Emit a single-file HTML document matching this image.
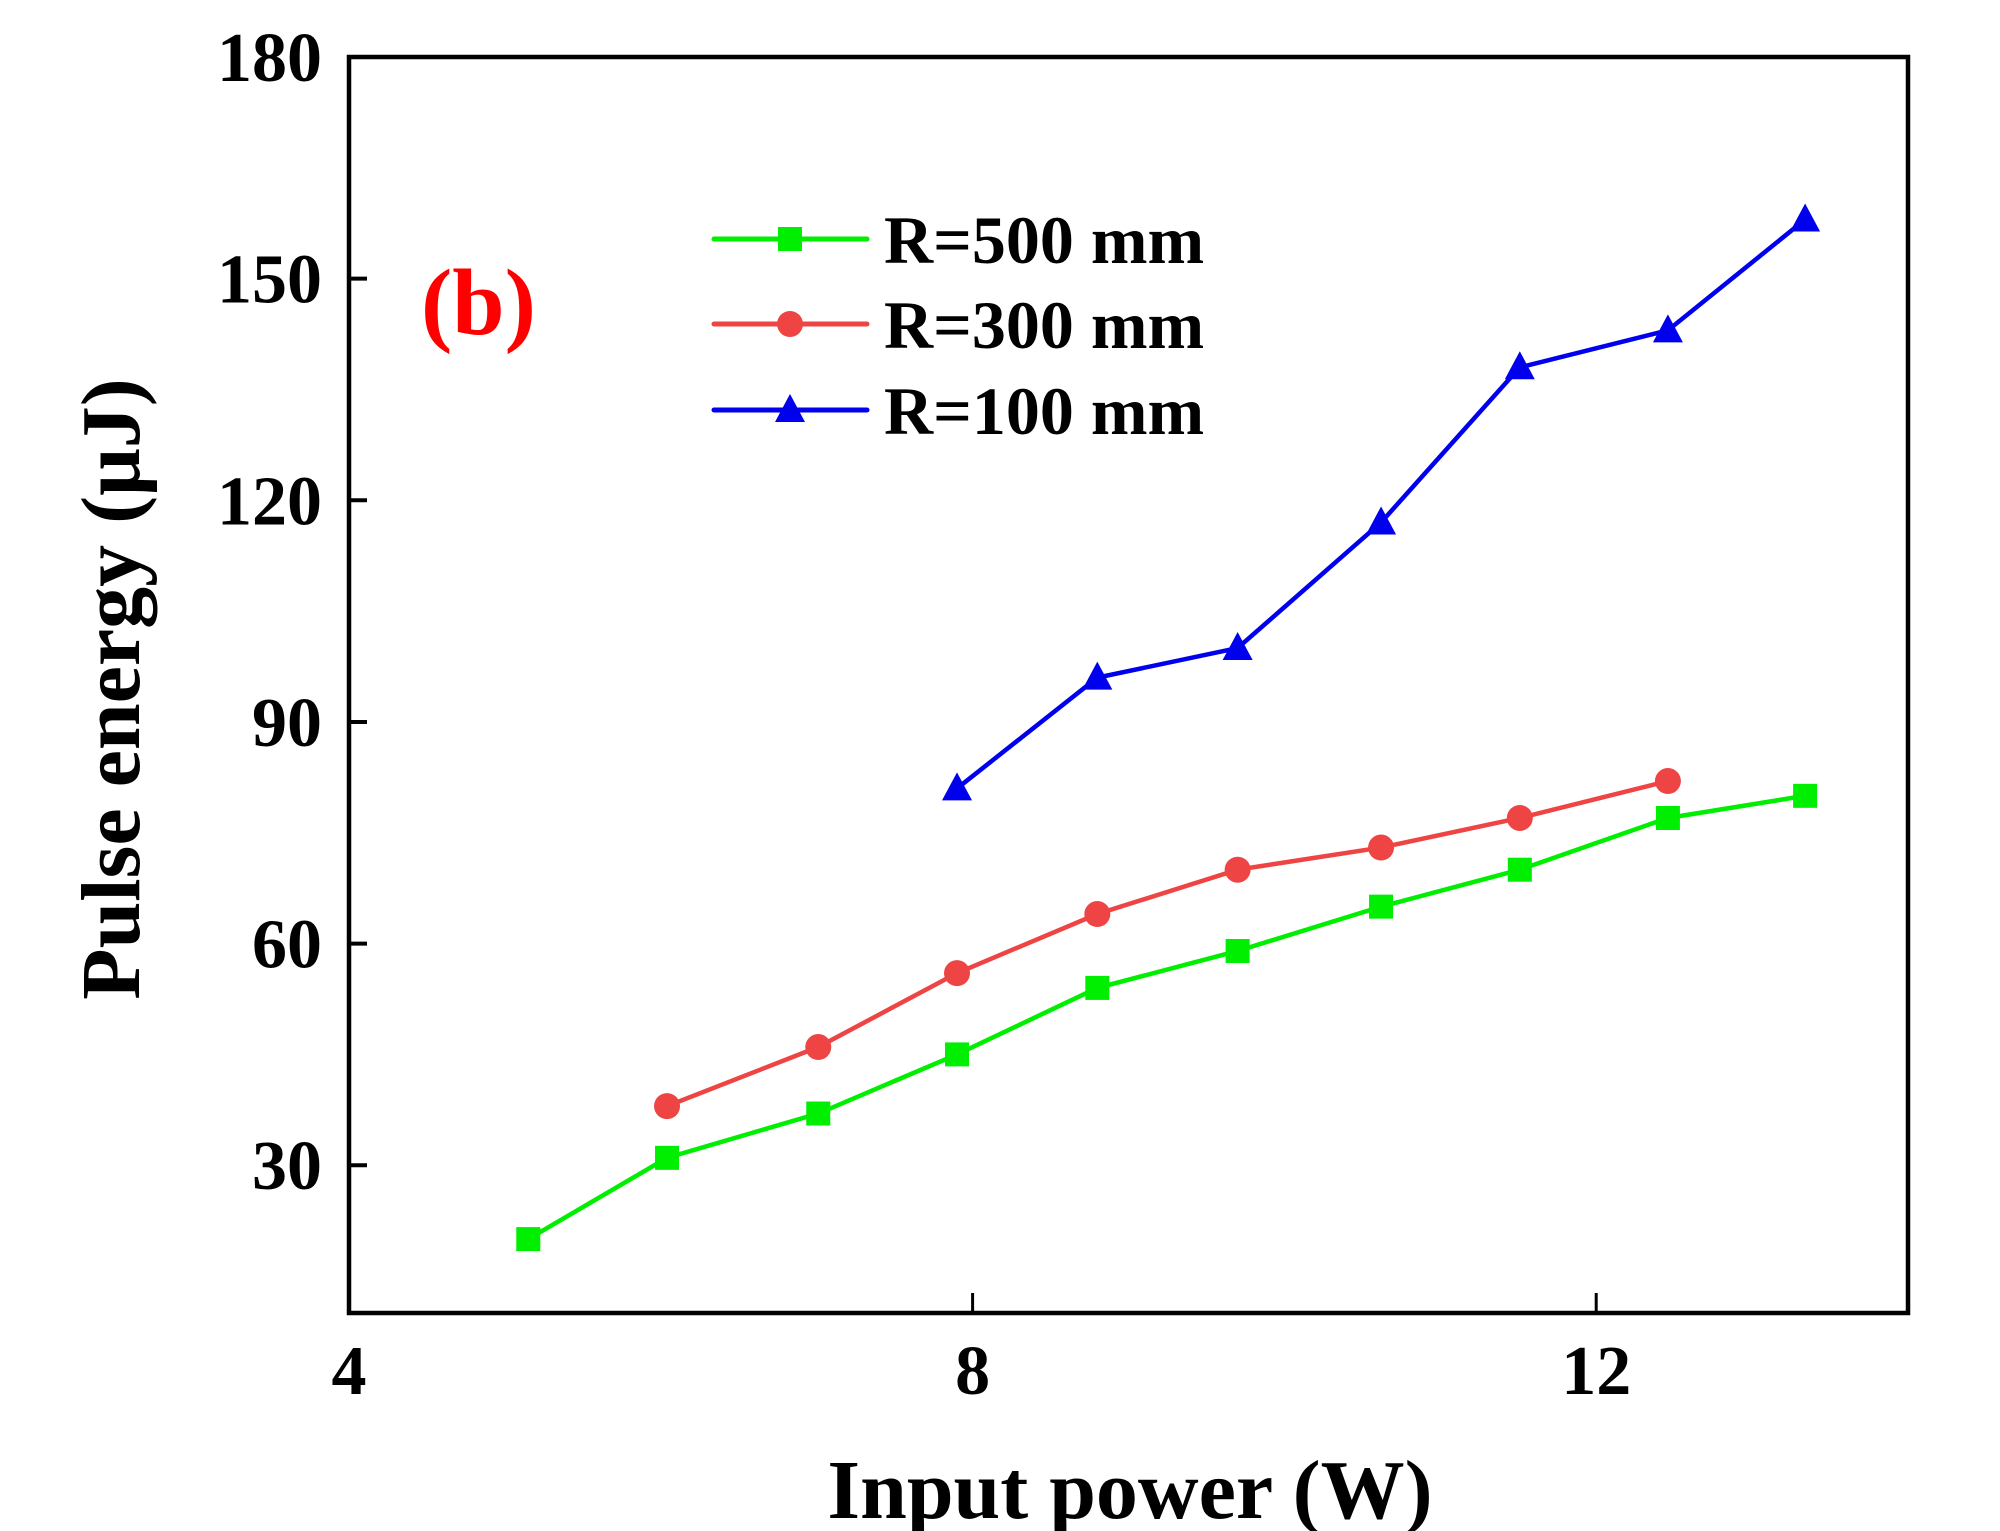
<!DOCTYPE html>
<html><head><meta charset="utf-8"><style>
html,body{margin:0;padding:0;background:#fff;}
svg{display:block;font-family:"Liberation Serif",serif;font-weight:bold;}
</style></head><body>
<svg id="chart" width="2000" height="1531" viewBox="0 0 2000 1531" xmlns="http://www.w3.org/2000/svg">
<g id="marks"></g>
<g id="axes"></g>
</svg>
<script>
const xTicks = [4, 8, 12];
const yTicks = [30, 60, 90, 120, 150, 180];
const xR500 = [5.15, 6.04, 7.01, 7.9, 8.8, 9.7, 10.62, 11.51, 12.46, 13.34];
const yR500 = [20, 31, 37, 45, 54, 59, 65, 70, 77, 80];
const xR300 = [6.04, 7.01, 7.9, 8.8, 9.7, 10.62, 11.51, 12.46];
const yR300 = [38, 46, 56, 64, 70, 73, 77, 82];
const xR100 = [7.9, 8.8, 9.7, 10.62, 11.51, 12.46, 13.34];
const yR100 = [81, 96, 100, 117, 138, 143, 158];
const seriesNames = ["R=500 mm", "R=300 mm", "R=100 mm"];

const NS = "http://www.w3.org/2000/svg";
const L = 349, R = 1908, T = 57, B = 1313;
const xMin = 4, xMax = 14, yMin = 10, yMax = 180;
function sx(v){ return L + (v - xMin) / (xMax - xMin) * (R - L); }
function sy(v){ return B - (v - yMin) / (yMax - yMin) * (B - T); }
function mk(tag, attrs, parent){
  const e = document.createElementNS(NS, tag);
  for (const k in attrs) e.setAttribute(k, attrs[k]);
  parent.appendChild(e);
  return e;
}
const marks = document.getElementById('marks');
const axes = document.getElementById('axes');

function marker(kind, cx, cy, color, parent){
  let e;
  if (kind === 'square') e = mk('rect', {x: cx - 12, y: cy - 12, width: 24, height: 24, fill: color}, parent);
  else if (kind === 'circle') e = mk('circle', {cx: cx, cy: cy, r: 13, fill: color}, parent);
  else e = mk('polygon', {points: (cx) + ',' + (cy - 16) + ' ' + (cx - 15) + ',' + (cy + 12) + ' ' + (cx + 15) + ',' + (cy + 12), fill: color}, parent);
  return e;
}
function drawSeries(xs, ys, color, kind, name){
  const g = mk('g', {}, marks);
  
  
  const pts = xs.map((x, i) => sx(x) + ',' + sy(ys[i])).join(' ');
  const pl = mk('polyline', {points: pts, fill: 'none', stroke: color, 'stroke-width': 4.5}, g);
  
  
  xs.forEach((x, i) => {
    const m = marker(kind, sx(x), sy(ys[i]), color, g);
    
    
  });
}
drawSeries(xR500, yR500, '#00ee00', 'square', 'series-r500');
drawSeries(xR300, yR300, '#ee4444', 'circle', 'series-r300');
drawSeries(xR100, yR100, '#0000ee', 'triangle', 'series-r100');

const frame = mk('rect', {x: L, y: T, width: R - L, height: B - T, fill: 'none', stroke: '#000', 'stroke-width': 4.5}, axes);



xTicks.forEach(v => {
  const t = mk('line', {x1: sx(v), x2: sx(v), y1: B, y2: B - 20, stroke: '#000', 'stroke-width': 3}, axes);
  
  
  const tx = mk('text', {x: sx(v), y: 1394, 'font-size': 70, 'text-anchor': 'middle'}, axes);
  tx.textContent = v;
  
  
});
yTicks.forEach(v => {
  const t = mk('line', {x1: L, x2: L + 18, y1: sy(v), y2: sy(v), stroke: '#000', 'stroke-width': 4}, axes);
  
  
  const tx = mk('text', {x: 322, y: sy(v) + 24, 'font-size': 70, 'text-anchor': 'end'}, axes);
  tx.textContent = v;
  
  
});

const xt = mk('text', {x: 1130, y: 1518, 'font-size': 84, 'text-anchor': 'middle'}, axes);
xt.textContent = 'Input power (W)';


const yt = mk('text', {x: 0, y: 0, 'font-size': 84, 'text-anchor': 'middle', transform: 'translate(139,689) rotate(-90)'}, axes);
yt.textContent = 'Pulse energy (\u03bcJ)';



const lab = mk('text', {x: 421, y: 334, 'font-size': 94, fill: '#ff0000'}, axes);
lab.textContent = '(b)';



const legColors = ['#00ee00', '#ee4444', '#0000ee'];
const legKinds = ['square', 'circle', 'triangle'];
const legY = [239, 324, 410];
const leg = mk('g', {}, axes);


seriesNames.forEach((n, i) => {
  const e = mk('g', {}, leg);
  
  
  mk('line', {x1: 714, x2: 867, y1: legY[i], y2: legY[i], stroke: legColors[i], 'stroke-width': 5, 'stroke-linecap': 'round'}, e);
  marker(legKinds[i], 790, legY[i], legColors[i], e);
  const t = mk('text', {x: 884, y: legY[i] + 24, 'font-size': 68}, e);
  t.textContent = n;
});
</script>
</body></html>
